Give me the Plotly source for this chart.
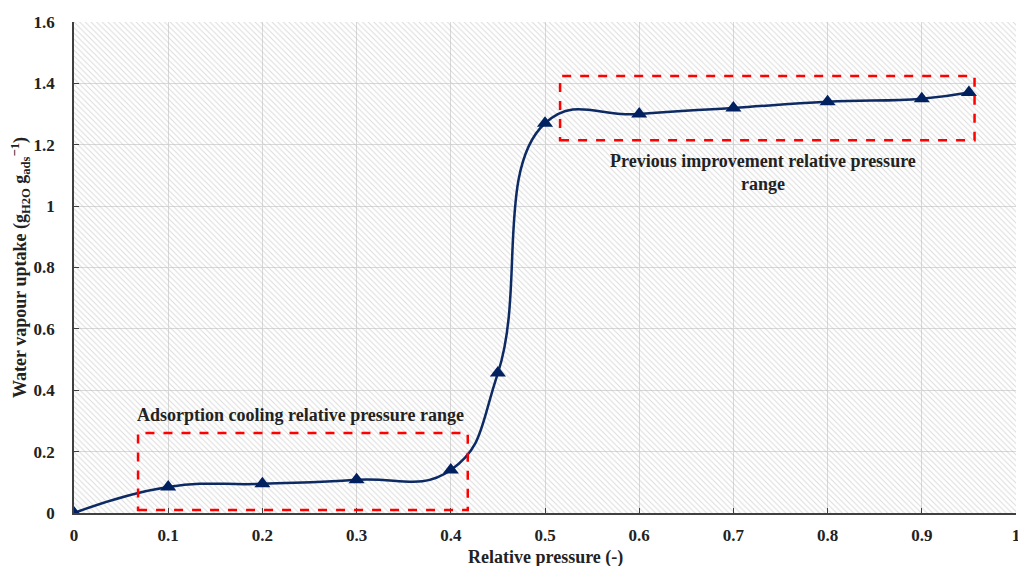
import plotly.graph_objects as go

# Water vapour adsorption isotherm
rel_pressure = [0.0, 0.1, 0.2, 0.3, 0.4, 0.45, 0.5, 0.6, 0.7, 0.8, 0.9, 0.95]
uptake = [0.0, 0.085, 0.095, 0.108, 0.14, 0.456, 1.27, 1.30, 1.32, 1.34, 1.35, 1.37]

x_ticks = [0, 0.1, 0.2, 0.3, 0.4, 0.5, 0.6, 0.7, 0.8, 0.9, 1]
x_tick_labels = ["0", "0.1", "0.2", "0.3", "0.4", "0.5", "0.6", "0.7", "0.8", "0.9", "1"]
y_ticks = [0, 0.2, 0.4, 0.6, 0.8, 1.0, 1.2, 1.4, 1.6]
y_tick_labels = ["0", "0.2", "0.4", "0.6", "0.8", "1", "1.2", "1.4", "1.6"]

# Highlighted ranges: (x0, x1, y0, y1)
cooling_box = (0.068, 0.418, 0.01, 0.261)
improvement_box = (0.516, 0.956, 1.215, 1.424)

FONT = "Liberation Serif"
NAVY = "#0d2a63"
MARKER = "#002060"
TEXT = "#222222"

fig = go.Figure()

# hatched plot background
fig.add_trace(go.Scatter(
    x=[0, 1, 1, 0, 0], y=[0, 0, 1.6, 1.6, 0],
    mode="lines", line=dict(width=0), fill="toself",
    fillcolor="rgba(0,0,0,0)",
    fillpattern=dict(shape="\\", fgcolor="#b8b8b8", bgcolor="rgba(0,0,0,0)",
                     size=4, solidity=0.25),
    hoverinfo="skip", showlegend=False,
))

fig.add_trace(go.Scatter(
    x=rel_pressure, y=uptake,
    mode="lines+markers",
    line=dict(color=NAVY, width=2.5, shape="spline", smoothing=1.3),
    marker=dict(symbol="triangle-up", size=14, color=MARKER),
    showlegend=False,
))

for (x0, x1, y0, y1) in (cooling_box, improvement_box):
    fig.add_shape(type="rect", x0=x0, x1=x1, y0=y0, y1=y1, xref="x", yref="y",
                  line=dict(color="#ff0000", width=2.5, dash="dash"))

fig.add_annotation(x=0.24, y=0.318, xref="x", yref="y",
                   text="<b>Adsorption cooling relative pressure range</b>",
                   showarrow=False, font=dict(family=FONT, size=18, color=TEXT))
fig.add_annotation(x=0.731, y=1.11, xref="x", yref="y",
                   text="<b>Previous improvement relative pressure<br>range</b>",
                   showarrow=False, align="center",
                   font=dict(family=FONT, size=18, color=TEXT))

# x-axis title, set just below the tick labels
fig.add_annotation(x=0.5, y=-0.09, xref="paper", yref="paper",
                   yanchor="middle", showarrow=False,
                   text="<b>Relative pressure (-)</b>",
                   font=dict(family=FONT, size=18, color=TEXT))

fig.update_layout(
    width=1018, height=566,
    margin=dict(l=74, r=2, t=22, b=53),
    paper_bgcolor="white", plot_bgcolor="white",
    font=dict(family=FONT, color=TEXT),
    xaxis=dict(
        range=[0, 1], tickvals=x_ticks,
        ticktext=["<b>%s</b>" % t for t in x_tick_labels],
        showgrid=True, gridcolor="#d9d9d9", gridwidth=1,
        showline=True, linecolor="#404040", linewidth=1.5,
        ticks="inside", ticklen=5, tickcolor="#404040",
        ticklabelstandoff=6, ticklabeloverflow="allow",
        tickfont=dict(family=FONT, size=17, color=TEXT),
        zeroline=False, automargin=False,
    ),
    yaxis=dict(
        range=[0, 1.6], tickvals=y_ticks,
        ticktext=["<b>%s</b>" % t for t in y_tick_labels],
        showgrid=True, gridcolor="#d9d9d9", gridwidth=1,
        showline=True, linecolor="#404040", linewidth=1.5,
        ticks="inside", ticklen=5, tickcolor="#404040",
        ticklabelstandoff=14,
        tickfont=dict(family=FONT, size=17, color=TEXT),
        title=dict(text="<b>Water vapour uptake (g<sub>H2O</sub> g<sub>ads</sub><sup>−1</sup>)</b>",
                   standoff=2, font=dict(family=FONT, size=18, color=TEXT)),
        zeroline=False, automargin=False,
    ),
)

fig.write_html("out.html")
